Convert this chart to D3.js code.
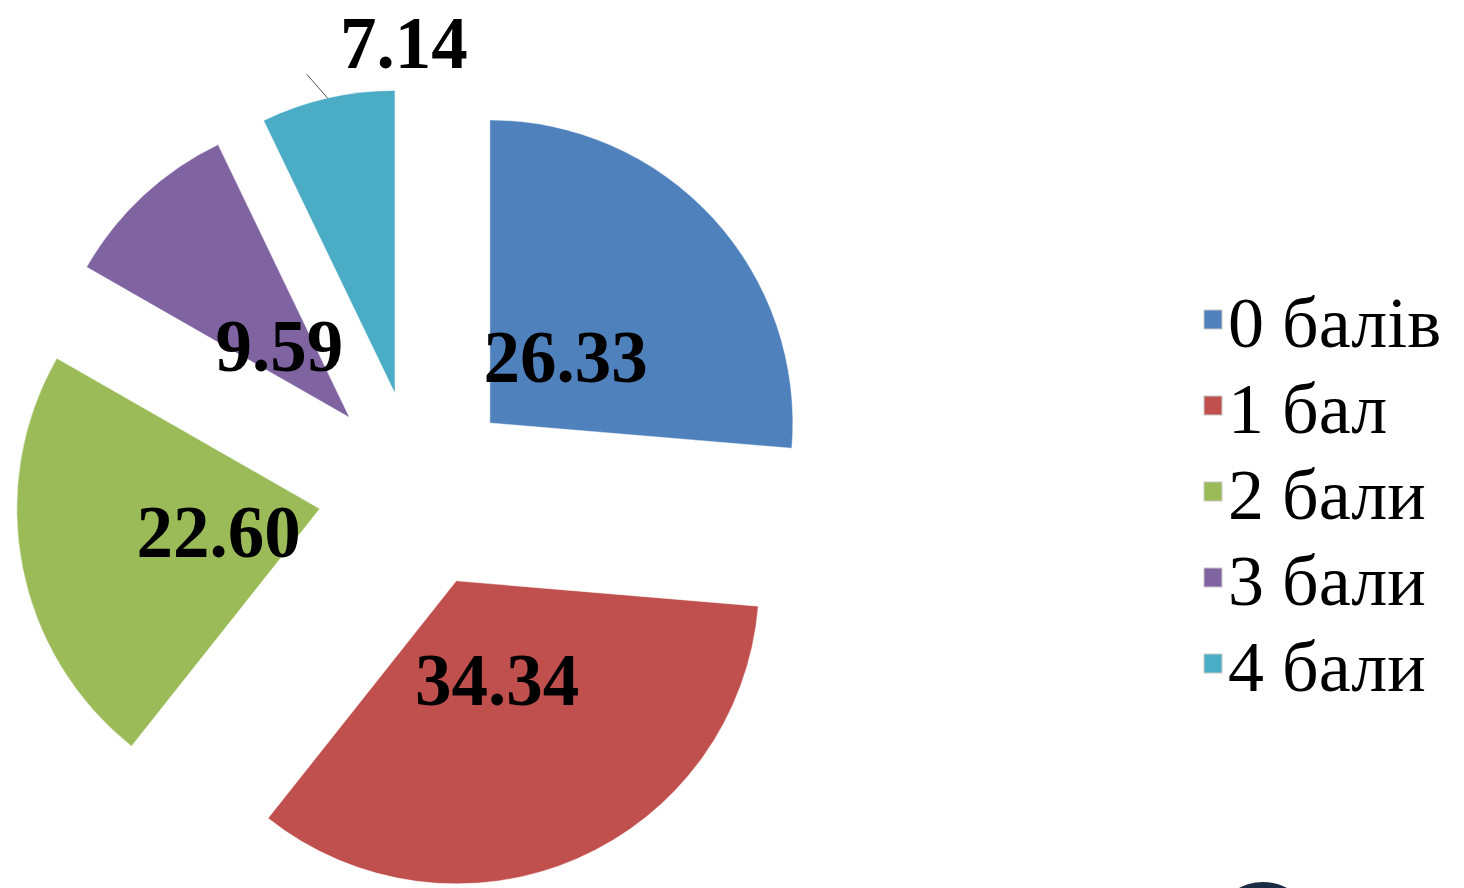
<!DOCTYPE html>
<html>
<head>
<meta charset="utf-8">
<script src="https://cdn.jsdelivr.net/npm/d3@7"></script>
<style>
  html, body { margin: 0; padding: 0; background: #fff; }
  svg { display: block; }
</style>
</head>
<body>
<svg id="chart" width="1464" height="888"></svg>
<script>
// ---- data ----
const categories = ["0 балів", "1 бал", "2 бали", "3 бали", "4 бали"];
const values = [26.33, 34.34, 22.60, 9.59, 7.14];
const labels = ["26.33", "34.34", "22.60", "9.59", "7.14"];
const colors = ["#4F81BD", "#C0504D", "#9BBB59", "#8064A2", "#4BACC6"];

// ---- layout ----
const W = 1464, H = 888;
const cx = 417, cy = 490, R = 303, explode = 99, labelR = 103;
const svg = d3.select("#chart");

const pie = d3.pie().sort(null).value(d => d)(values);
const arc = d3.arc().innerRadius(0).outerRadius(R);

const g = svg.append("g").attr("transform", `translate(${cx},${cy})`);

function polar(angle, r) { return [Math.sin(angle) * r, -Math.cos(angle) * r]; }

pie.forEach((p, i) => {
  const mid = (p.startAngle + p.endAngle) / 2;
  const [ox, oy] = polar(mid, explode);
  const sg = g.append("g").attr("transform", `translate(${ox},${oy})`);
  sg.append("path").attr("d", arc(p)).attr("fill", colors[i])
    .attr("stroke", "rgba(255,255,255,0.6)").attr("stroke-width", 0.8);

  if (i < 4) {
    const [lx, ly] = polar(mid, labelR);
    sg.append("text").attr("x", lx).attr("y", ly).attr("dy", "0.40em")
      .attr("text-anchor", "middle")
      .attr("font-family", "'Liberation Serif', 'Times New Roman', serif")
      .attr("font-weight", "bold").attr("font-size", 73).attr("fill", "#000")
      .text(labels[i]);
  } else {
    // outside label with leader line
    const [ax, ay] = polar(mid, R);
    const [bx, by] = polar(mid - 0.045, R + 28);
    sg.append("line").attr("x1", ax).attr("y1", ay).attr("x2", bx).attr("y2", by)
      .attr("stroke", "#555").attr("stroke-width", 1);
    const [tx, ty] = polar(0.025, 355);
    sg.append("text").attr("x", tx).attr("y", ty).attr("dy", "0.40em")
      .attr("text-anchor", "middle")
      .attr("font-family", "'Liberation Serif', 'Times New Roman', serif")
      .attr("font-weight", "bold").attr("font-size", 73).attr("fill", "#000")
      .text(labels[i]);
  }
});

// ---- legend ----
const legY = d3.scalePoint().domain(categories).range([347, 691]);
const leg = svg.append("g");
categories.forEach((c, i) => {
  const y = legY(c);
  leg.append("rect").attr("x", 1204).attr("y", y - 37).attr("width", 18).attr("height", 19)
    .attr("fill", colors[i]).attr("stroke", "#c8c8c8").attr("stroke-width", 1);
  leg.append("text")
    .attr("x", 1228).attr("y", y)
    .attr("font-family", "'Liberation Serif', 'Times New Roman', serif")
    .attr("font-size", 72).attr("fill", "#000")
    .text(c);
});

// partially visible dark shape at bottom right
svg.append("ellipse").attr("cx", 1263).attr("cy", 912).attr("rx", 40).attr("ry", 30)
  .attr("fill", "#1c2b44");
</script>
</body>
</html>
